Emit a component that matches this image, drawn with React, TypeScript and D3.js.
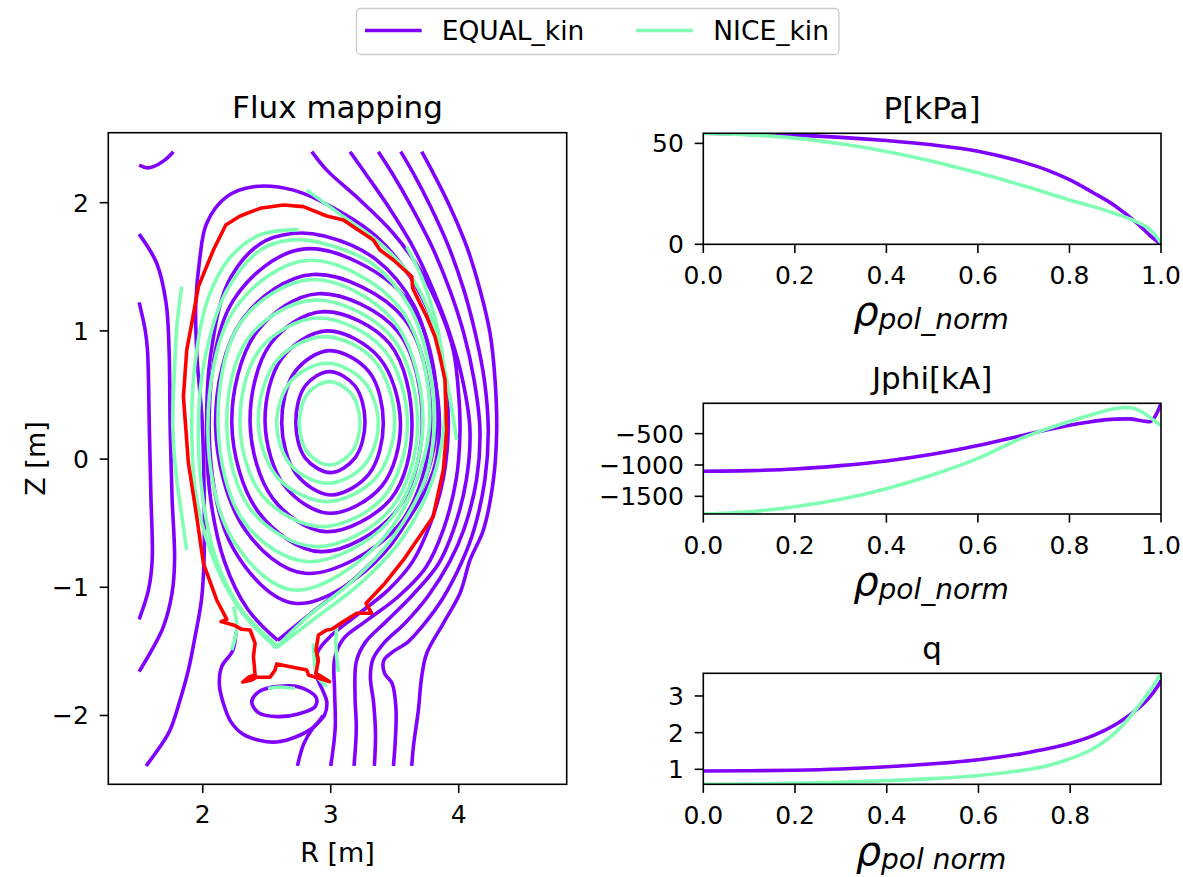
import React from 'react';
import * as d3 from 'd3';

type Pt = [number, number];

const PURPLE = '#8000ff';
const GREEN = '#80ffb4';
const RED = '#ff0000';
const FONT = 'DejaVu Sans, Verdana, sans-serif';

// ---------- legend ----------
const seriesNames = ['EQUAL_kin', 'NICE_kin'];

// ---------- profiles vs rho_pol_norm ----------
const rhoPe = [0, 0.1, 0.2, 0.3, 0.4, 0.5, 0.6, 0.7, 0.75, 0.8, 0.85, 0.9, 0.95, 0.98, 1.0];
const pEqual = [55.0, 54.7, 54.1, 53.0, 51.4, 49.3, 46.1, 40.6, 36.9, 32.0, 25.8, 19.0, 10.0, 3.5, 0];
const rhoPn = [0, 0.1, 0.2, 0.3, 0.4, 0.5, 0.6, 0.7, 0.8, 0.85, 0.9, 0.95, 0.97, 0.99, 1.0];
const pNice = [55.0, 54.2, 52.6, 49.8, 46.0, 41.2, 35.4, 29.0, 22.0, 18.8, 15.2, 10.8, 8.3, 3.8, 0.6];

const rhoJe = [0, 0.1, 0.2, 0.3, 0.4, 0.5, 0.6, 0.7, 0.8, 0.85, 0.9, 0.93, 0.96, 0.975, 0.99, 1.0];
const jEqual = [-1101, -1090, -1065, -1010, -936, -830, -690, -525, -365, -305, -268, -265, -298, -310, -190, -16];
const rhoJn = [0, 0.1, 0.2, 0.3, 0.4, 0.5, 0.6, 0.7, 0.8, 0.85, 0.9, 0.92, 0.94, 0.96, 0.98, 1.0];
const jNice = [-1782, -1745, -1665, -1548, -1378, -1160, -894, -560, -305, -195, -100, -82, -95, -160, -265, -370];

const rhoQ = [0, 0.1, 0.2, 0.3, 0.4, 0.5, 0.6, 0.7, 0.75, 0.8, 0.85, 0.9, 0.93, 0.95, 0.97, 0.99, 0.998];
const qEqual = [0.955, 0.96, 0.975, 1.01, 1.07, 1.15, 1.26, 1.44, 1.56, 1.71, 1.92, 2.23, 2.48, 2.68, 2.92, 3.25, 3.42];
const qNice = [0.591, 0.6, 0.615, 0.645, 0.69, 0.745, 0.83, 0.98, 1.1, 1.29, 1.56, 2.02, 2.42, 2.74, 3.08, 3.45, 3.618];

const rhoTicks = [0, 0.2, 0.4, 0.6, 0.8, 1.0];
const rhoTicksQ = [0, 0.2, 0.4, 0.6, 0.8];
const pTicks = [0, 50];
const jTicks = [-1500, -1000, -500];
const qTicks = [1, 2, 3];

// ---------- flux map (R, Z in m) ----------
const rRange = [1.262, 4.844];
const zRange = [-2.537, 2.546];
const rTicks = [2, 3, 4];
const zTicks = [-2, -1, 0, 1, 2];

// EQUAL closed flux surfaces
const equalRings: Pt[][] = [
  [[3.268, 0.29], [3.19, 0.57], [2.99, 0.682], [2.8, 0.57], [2.727, 0.29], [2.8, 0.01], [3.0, -0.106], [3.19, 0.01]],
  [[3.411, 0.28], [3.3, 0.68], [2.99, 0.846], [2.72, 0.68], [2.617, 0.28], [2.73, -0.115], [3.0, -0.28], [3.3, -0.115]],
  [[3.545, 0.28], [3.38, 0.79], [2.97, 1.0], [2.62, 0.79], [2.487, 0.29], [2.64, -0.21], [2.99, -0.423], [3.4, -0.21]],
  [[3.635, 0.26], [3.46, 0.9], [2.94, 1.15], [2.53, 0.9], [2.37, 0.28], [2.55, -0.31], [2.96, -0.566], [3.47, -0.31]],
  [[3.715, 0.25], [3.52, 1.0], [2.9, 1.29], [2.42, 0.99], [2.227, 0.28], [2.44, -0.42], [2.92, -0.722], [3.5, -0.42]],
  [[3.78, 0.24], [3.57, 1.1], [2.86, 1.44], [2.31, 1.09], [2.1, 0.27], [2.33, -0.55], [2.8, -0.891], [3.52, -0.53]],
  [[3.825, 0.22], [3.6, 1.24], [2.8, 1.64], [2.24, 1.24], [2.05, 0.25], [2.24, -0.7], [2.72, -1.125], [3.42, -0.73]],
  [[2.383, -1.892], [2.448, -1.809], [2.578, -1.775], [2.76, -1.78], [2.885, -1.858], [2.878, -1.931], [2.747, -1.988], [2.578, -2.009], [2.435, -1.978]],
];

// EQUAL open contours
const equalOpen: Pt[][] = [
  // separatrix
  [[2.586, -1.415], [2.85, -1.2], [3.2, -0.92], [3.55, -0.55], [3.8, -0.1], [3.85, 0.25], [3.8, 0.7], [3.65, 1.2], [3.35, 1.56], [2.95, 1.74], [2.7, 1.76], [2.45, 1.68], [2.2, 1.38], [2.06, 0.8], [2.03, 0.25], [2.06, -0.3], [2.17, -0.8], [2.35, -1.17], [2.586, -1.415]],
  // first SOL surface with both legs
  [[1.557, -2.394], [1.667, -2.243], [1.745, -2.113], [1.823, -1.879], [1.888, -1.645], [1.94, -1.385], [1.99, -1.099], [2.01, -0.787], [2.01, -0.2], [1.995, 0.3], [1.955, 0.8], [1.945, 1.2], [1.975, 1.55], [2.031, 1.84], [2.188, 2.047], [2.396, 2.125], [2.708, 2.098], [3.099, 1.916], [3.359, 1.734], [3.62, 1.423], [3.8, 1.059], [3.89, 0.65], [3.919, 0.27], [3.88, -0.15], [3.78, -0.5], [3.64, -0.8], [3.45, -1.02], [3.2, -1.22], [3.0, -1.38], [2.9, -1.5], [2.88, -1.6], [2.895, -1.71], [2.94, -1.81], [2.97, -1.9], [2.95, -2.0], [2.86, -2.1], [2.79, -2.22], [2.74, -2.394]],
  // private-flux surface around the lower loop
  [[2.26, -1.35], [2.234, -1.494], [2.148, -1.619], [2.13, -1.762], [2.161, -1.905], [2.219, -2.048], [2.313, -2.145], [2.448, -2.196], [2.578, -2.207], [2.721, -2.17], [2.865, -2.092], [2.94, -2.0]],
  // outer LFS surfaces
  [[2.852, 2.398], [2.969, 2.254], [3.229, 2.02], [3.49, 1.76], [3.698, 1.475], [3.854, 1.163], [3.958, 0.851], [4.0, 0.5], [4.01, 0.2], [3.98, -0.16], [3.88, -0.55], [3.74, -0.85], [3.52, -1.08], [3.28, -1.26], [3.1, -1.4], [3.03, -1.56], [3.03, -1.8], [3.035, -2.1], [3.0, -2.394]],
  [[3.151, 2.398], [3.27, 2.23], [3.45, 1.97], [3.64, 1.66], [3.8, 1.32], [3.93, 0.98], [4.03, 0.62], [4.088, 0.23], [4.06, -0.16], [3.96, -0.55], [3.84, -0.82], [3.64, -1.06], [3.43, -1.27], [3.27, -1.43], [3.2, -1.58], [3.19, -1.85], [3.2, -2.1], [3.182, -2.394]],
  [[3.372, 2.398], [3.48, 2.23], [3.63, 1.97], [3.79, 1.66], [3.93, 1.32], [4.04, 0.98], [4.12, 0.62], [4.166, 0.23], [4.14, -0.16], [4.04, -0.55], [3.93, -0.8], [3.76, -1.07], [3.58, -1.28], [3.42, -1.43], [3.33, -1.56], [3.31, -1.7], [3.335, -1.9], [3.35, -2.15], [3.341, -2.394]],
  [[3.547, 2.398], [3.645, 2.23], [3.78, 1.97], [3.92, 1.66], [4.04, 1.32], [4.13, 0.98], [4.2, 0.62], [4.231, 0.23], [4.205, -0.16], [4.12, -0.55], [4.03, -0.79], [3.88, -1.08], [3.72, -1.3], [3.6, -1.43], [3.49, -1.5], [3.415, -1.57], [3.42, -1.67], [3.48, -1.75], [3.51, -1.95], [3.505, -2.19], [3.49, -2.394]],
  [[3.711, 2.398], [3.802, 2.229], [3.932, 1.969], [4.063, 1.657], [4.167, 1.319], [4.245, 0.981], [4.284, 0.617], [4.297, 0.227], [4.271, -0.163], [4.193, -0.553], [4.089, -0.787], [4.01, -1.047], [3.88, -1.281], [3.75, -1.515], [3.711, -1.697], [3.685, -1.957], [3.646, -2.243], [3.633, -2.394]],
  // HFS surfaces
  [[1.503, 1.755], [1.641, 1.526], [1.714, 1.214], [1.737, 0.851], [1.745, 0.27], [1.76, -0.293], [1.78, -0.787], [1.76, -1.047], [1.693, -1.307], [1.602, -1.489], [1.503, -1.658]],
  [[1.503, 1.222], [1.55, 1.007], [1.568, 0.851], [1.583, 0.227], [1.595, -0.293], [1.605, -0.787], [1.576, -1.021], [1.503, -1.25]],
  [[1.503, 2.294], [1.56, 2.272], [1.615, 2.281], [1.7, 2.33], [1.771, 2.398]],
];

// NICE closed flux surfaces
const niceRings: Pt[][] = [
  [[3.229, 0.28], [3.16, 0.51], [2.99, 0.604], [2.82, 0.51], [2.755, 0.28], [2.82, 0.05], [2.99, -0.046], [3.16, 0.05]],
  [[3.372, 0.28], [3.255, 0.61], [2.97, 0.747], [2.69, 0.61], [2.578, 0.28], [2.69, -0.05], [2.98, -0.189], [3.26, -0.05]],
  [[3.5, 0.29], [3.34, 0.77], [2.95, 0.955], [2.58, 0.77], [2.434, 0.29], [2.59, -0.15], [2.97, -0.332], [3.35, -0.15]],
  [[3.6, 0.27], [3.41, 0.86], [2.9, 1.1], [2.45, 0.86], [2.291, 0.27], [2.47, -0.29], [2.93, -0.527], [3.41, -0.3]],
  [[3.68, 0.26], [3.47, 0.96], [2.87, 1.24], [2.36, 0.95], [2.188, 0.26], [2.38, -0.4], [2.88, -0.683], [3.46, -0.4]],
  [[3.72, 0.26], [3.49, 1.08], [2.85, 1.4], [2.3, 1.07], [2.12, 0.26], [2.33, -0.5], [2.82, -0.8], [3.45, -0.49]],
  [[3.77, 0.24], [3.54, 1.18], [2.82, 1.55], [2.25, 1.17], [2.04, 0.25], [2.23, -0.62], [2.71, -1.021], [3.4, -0.63]],
];

// NICE open contours
const niceOpen: Pt[][] = [
  [[2.586, -1.46], [2.83, -1.22], [3.15, -0.97], [3.48, -0.62], [3.74, -0.15], [3.81, 0.25], [3.77, 0.72], [3.62, 1.18], [3.33, 1.52], [2.95, 1.68], [2.7, 1.71], [2.45, 1.63], [2.18, 1.3], [2.01, 0.75], [1.966, 0.25], [2.0, -0.3], [2.11, -0.8], [2.3, -1.17], [2.586, -1.46]],
  [[2.75, 1.79], [2.45, 1.75], [2.22, 1.58], [2.04, 1.25], [1.94, 0.75], [1.914, 0.25], [1.95, -0.3], [2.1, -0.82], [2.31, -1.2], [2.575, -1.475]],
  [[2.575, -1.475], [2.88, -1.24], [3.22, -0.98], [3.55, -0.63], [3.79, -0.18], [3.89, 0.3], [3.88, 0.75], [3.81, 1.12], [3.71, 1.42], [3.594, 1.656]],
  [[2.813, 2.098], [3.099, 1.891], [3.385, 1.683], [3.646, 1.397], [3.802, 1.059], [3.906, 0.617], [3.984, 0.149]],
  [[1.836, 1.344], [1.8, 1.06], [1.775, 0.6], [1.766, 0.27], [1.79, -0.1], [1.83, -0.4], [1.875, -0.709]],
  [[2.51, -1.79], [2.6, -1.778], [2.72, -1.79]],
  [[2.865, -1.437], [2.87, -1.55], [2.9, -1.7], [2.97, -1.775]],
  [[3.047, -1.31], [3.04, -1.45], [3.06, -1.66]],
  [[2.24, -1.15], [2.266, -1.307], [2.227, -1.489]],
];

// boundary (red)
const boundary: Pt[] = [
  [1.875, 0.851], [1.914, 1.059], [1.966, 1.345], [2.083, 1.631], [2.18, 1.826], [2.292, 1.896], [2.448, 1.956], [2.63, 1.982],
  [2.786, 1.969], [2.969, 1.896], [3.099, 1.865], [3.177, 1.813], [3.333, 1.709], [3.385, 1.631], [3.49, 1.553], [3.633, 1.423],
  [3.641, 1.332], [3.685, 1.241], [3.75, 1.111], [3.815, 0.955], [3.854, 0.799], [3.893, 0.617], [3.906, 0.227], [3.88, -0.085],
  [3.8, -0.45], [3.568, -0.787], [3.424, -0.968], [3.276, -1.124], [3.32, -1.203], [3.203, -1.203], [3.099, -1.268], [3.008, -1.328],
  [2.969, -1.333], [2.904, -1.372], [2.885, -1.489], [2.904, -1.567], [2.885, -1.671], [2.99, -1.736], [2.826, -1.684], [2.813, -1.645],
  [2.578, -1.598], [2.565, -1.645], [2.526, -1.702], [2.422, -1.702], [2.383, -1.723], [2.313, -1.739], [2.357, -1.702], [2.409, -1.684],
  [2.396, -1.541], [2.409, -1.437], [2.37, -1.333], [2.305, -1.328], [2.24, -1.294], [2.143, -1.268], [2.188, -1.25], [2.109, -1.099],
  [2.005, -0.813], [1.953, -0.449], [1.888, -0.033], [1.849, 0.487],
];

const minus = (v: number) => (v < 0 ? '\u2212' + Math.abs(v) : String(v));

function FluxPanel() {
  const x0 = 108.3, x1 = 566.7, y0 = 132.7, y1 = 784.3;
  const xs = d3.scaleLinear().domain(rRange).range([x0, x1]);
  const ys = d3.scaleLinear().domain(zRange).range([y1, y0]);
  const closed = d3.line<Pt>().x(d => xs(d[0])).y(d => ys(d[1])).curve(d3.curveCatmullRomClosed.alpha(0.5));
  const open = d3.line<Pt>().x(d => xs(d[0])).y(d => ys(d[1])).curve(d3.curveCatmullRom.alpha(0.5));
  const poly = d3.line<Pt>().x(d => xs(d[0])).y(d => ys(d[1])).curve(d3.curveLinearClosed);
  const sw = 3.6;
  return (
    <g>
      <defs>
        <clipPath id="clipFlux"><rect x={x0} y={y0} width={x1 - x0} height={y1 - y0} /></clipPath>
      </defs>
      <g clipPath="url(#clipFlux)" fill="none" strokeLinejoin="round" strokeLinecap="butt">
        {equalRings.map((c, i) => <path key={'er' + i} d={closed(c) || ''} stroke={PURPLE} strokeWidth={sw} />)}
        {equalOpen.map((c, i) => <path key={'eo' + i} d={open(c) || ''} stroke={PURPLE} strokeWidth={sw} />)}
        {niceRings.map((c, i) => <path key={'nr' + i} d={closed(c) || ''} stroke={GREEN} strokeWidth={sw} />)}
        {niceOpen.map((c, i) => <path key={'no' + i} d={open(c) || ''} stroke={GREEN} strokeWidth={sw} />)}
        <path d={poly(boundary) || ''} stroke={RED} strokeWidth={sw} />
      </g>
      <rect x={x0} y={y0} width={x1 - x0} height={y1 - y0} fill="none" stroke="#000" strokeWidth={1.6} />
      {rTicks.map(t => (
        <g key={'rt' + t}>
          <line x1={xs(t)} x2={xs(t)} y1={y1} y2={y1 + 8.6} stroke="#000" strokeWidth={1.6} />
          <text x={xs(t)} y={y1 + 39} textAnchor="middle" fontSize={25}>{minus(t)}</text>
        </g>
      ))}
      {zTicks.map(t => (
        <g key={'zt' + t}>
          <line x1={x0 - 8.6} x2={x0} y1={ys(t)} y2={ys(t)} stroke="#000" strokeWidth={1.6} />
          <text x={x0 - 19.5} y={ys(t) + 9} textAnchor="end" fontSize={25}>{minus(t)}</text>
        </g>
      ))}
      <text x={(x0 + x1) / 2} y={118} textAnchor="middle" fontSize={31}>Flux mapping</text>
      <text x={(x0 + x1) / 2} y={861.7} textAnchor="middle" fontSize={27}>R [m]</text>
      <text transform={`translate(45,${(y0 + y1) / 2}) rotate(-90)`} textAnchor="middle" fontSize={27}>Z [m]</text>
    </g>
  );
}

type Series = { x: number[]; y: number[]; color: string };

function ProfilePanel(props: {
  id: string; top: number; bottom: number; title: string; series: Series[];
  xMax: number; xTicks: number[]; yTicks: number[]; sub: string;
}) {
  const { id, top, bottom, title, series, xMax, xTicks, yTicks, sub } = props;
  const x0 = 703.3, x1 = 1161;
  const allY = series.flatMap(s => s.y);
  const ext = d3.extent(allY) as [number, number];
  const xs = d3.scaleLinear().domain([0, xMax]).range([x0, x1]);
  const ys = d3.scaleLinear().domain(ext).range([bottom, top]);
  const line = d3.line<[number, number]>().x(d => xs(d[0])).y(d => ys(d[1])).curve(d3.curveMonotoneX);
  return (
    <g>
      <defs>
        <clipPath id={id}><rect x={x0} y={top} width={x1 - x0} height={bottom - top} /></clipPath>
      </defs>
      <g clipPath={`url(#${id})`} fill="none">
        {series.map((s, i) => (
          <path key={i} d={line(s.x.map((v, k) => [v, s.y[k]] as [number, number])) || ''} stroke={s.color} strokeWidth={3.6} />
        ))}
      </g>
      <rect x={x0} y={top} width={x1 - x0} height={bottom - top} fill="none" stroke="#000" strokeWidth={1.6} />
      {xTicks.map(t => (
        <g key={'x' + t}>
          <line x1={xs(t)} x2={xs(t)} y1={bottom} y2={bottom + 8.6} stroke="#000" strokeWidth={1.6} />
          <text x={xs(t)} y={bottom + 40} textAnchor="middle" fontSize={25}>{t.toFixed(1)}</text>
        </g>
      ))}
      {yTicks.map(t => (
        <g key={'y' + t}>
          <line x1={x0 - 8.6} x2={x0} y1={ys(t)} y2={ys(t)} stroke="#000" strokeWidth={1.6} />
          <text x={x0 - 19.5} y={ys(t) + 9} textAnchor="end" fontSize={25}>{minus(t)}</text>
        </g>
      ))}
      <text x={(x0 + x1) / 2} y={top - 14.7} textAnchor="middle" fontSize={31}>{title}</text>
      <text x={931} y={bottom + 80.7} textAnchor="middle" fontStyle="italic">
        <tspan fontSize={40}>ρ</tspan>
        <tspan fontSize={28} dy={4}>{sub}</tspan>
      </text>
    </g>
  );
}

export default function App() {
  return (
    <svg width={1183} height={877} viewBox="0 0 1183 877"
      style={{ position: 'absolute', left: 0, top: 0, background: '#fff' }}
      fontFamily={FONT} fill="#000">
      <rect x={0} y={0} width={1183} height={877} fill="#fff" />
      <FluxPanel />
      <ProfilePanel id="clipP" top={133.3} bottom={244.3} title="P[kPa]"
        series={[{ x: rhoPe, y: pEqual, color: PURPLE }, { x: rhoPn, y: pNice, color: GREEN }]}
        xMax={1} xTicks={rhoTicks} yTicks={pTicks} sub="pol_norm" />
      <ProfilePanel id="clipJ" top={403.3} bottom={514} title="Jphi[kA]"
        series={[{ x: rhoJe, y: jEqual, color: PURPLE }, { x: rhoJn, y: jNice, color: GREEN }]}
        xMax={1} xTicks={rhoTicks} yTicks={jTicks} sub="pol_norm" />
      <ProfilePanel id="clipQ" top={673.3} bottom={784.3} title="q"
        series={[{ x: rhoQ, y: qEqual, color: PURPLE }, { x: rhoQ, y: qNice, color: GREEN }]}
        xMax={0.998} xTicks={rhoTicksQ} yTicks={qTicks} sub="pol norm" />
      {/* legend */}
      <rect x={356.5} y={8.5} width={482.5} height={46} rx={4} fill="#fff" fillOpacity={0.8} stroke="#cccccc" strokeWidth={1.3} />
      <line x1={365} x2={421.7} y1={30.5} y2={30.5} stroke={PURPLE} strokeWidth={3.6} />
      <text x={441.7} y={40} fontSize={26.5}>{seriesNames[0]}</text>
      <line x1={636} x2={693} y1={30.5} y2={30.5} stroke={GREEN} strokeWidth={3.6} />
      <text x={713.3} y={40} fontSize={26.5}>{seriesNames[1]}</text>
    </svg>
  );
}
